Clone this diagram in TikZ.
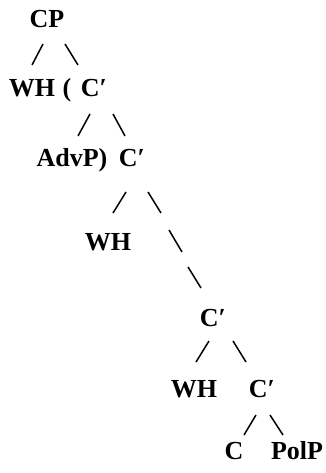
\documentclass[tikz,border=0pt]{standalone}
\usepackage{fontspec}
\setmainfont{Liberation Serif}
\begin{document}
\begin{tikzpicture}[x=1pt,y=-1pt,
  lab/.style={inner sep=0pt,anchor=base,font=\fontsize{26}{26}\selectfont\bfseries},
  br/.style={line width=1.5pt}]
\useasboundingbox (0,0) rectangle (325,473);
% row 1
\node[lab] (cp) at (47,28) {CP};
\coordinate (a1) at (43,44); \coordinate (a2) at (32,65);
\coordinate (b1) at (65,44); \coordinate (b2) at (78,65);
\draw[br] (a1) -- (a2);
\draw[br] (b1) -- (b2);
% row 3
\node[lab] (wh1) at (32,97) {WH};
\node[lab] (lp) at (67,97) {(};
\node[lab] (c1) at (94,97) {C′};
\coordinate (c1a) at (90,114); \coordinate (c1b) at (78,136);
\coordinate (c1c) at (113,114); \coordinate (c1d) at (125,136);
\draw[br] (c1a) -- (c1b);
\draw[br] (c1c) -- (c1d);
% row 5
\node[lab] (advp) at (72,167) {AdvP)};
\node[lab] (c2) at (132,167) {C′};
\coordinate (c2a) at (126,192); \coordinate (c2b) at (113,213);
\coordinate (c2c) at (148,192); \coordinate (c2d) at (161,213);
\draw[br] (c2a) -- (c2b);
\draw[br] (c2c) -- (c2d);
% row 7
\node[lab] (wh2) at (108,250) {WH};
\coordinate (d1) at (169,230); \coordinate (d2) at (182,252);
\coordinate (d3) at (188,267); \coordinate (d4) at (201,288);
\draw[br] (d1) -- (d2);
\draw[br] (d3) -- (d4);
% row 9
\node[lab] (c3) at (213,326) {C′};
\coordinate (c3a) at (209,341); \coordinate (c3b) at (196,362);
\coordinate (c3c) at (233,341); \coordinate (c3d) at (246,362);
\draw[br] (c3a) -- (c3b);
\draw[br] (c3c) -- (c3d);
% row 11
\node[lab] (wh3) at (194,397) {WH};
\node[lab] (c4) at (262,397) {C′};
\coordinate (c4a) at (256,415); \coordinate (c4b) at (244,435);
\coordinate (c4c) at (270,415); \coordinate (c4d) at (283,435);
\draw[br] (c4a) -- (c4b);
\draw[br] (c4c) -- (c4d);
% row 13
\node[lab] (c) at (234,459) {C};
\node[lab] (polp) at (297,459) {PolP};
\end{tikzpicture}
\end{document}
